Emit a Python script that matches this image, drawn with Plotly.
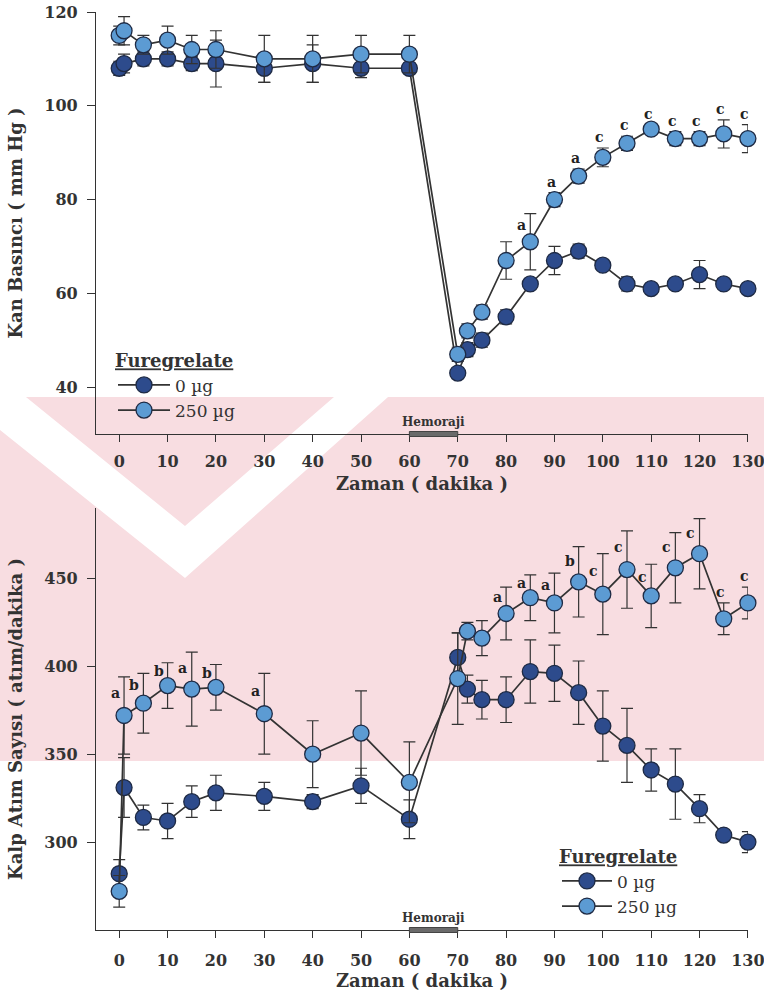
import plotly.graph_objects as go

# Ölçüm zamanları (dakika)
zaman = [0, 1, 5, 10, 15, 20, 30, 40, 50, 60,
         70, 72, 75, 80, 85, 90, 95, 100, 105, 110, 115, 120, 125, 130]

# Kan basıncı (mm Hg), ortalama ± SEM
kb_0 = [108, 109, 110, 110, 109, 109, 108, 109, 108, 108,
        43, 48, 50, 55, 62, 67, 69, 66, 62, 61, 62, 64, 62, 61]
kb_0_sem = [1.5, 2, 1.5, 1.5, 1.5, 5, 3, 4, 2, 1,
            1, 1.5, 1.5, 1.5, 1, 3, 1.5, 1, 1.5, 1, 1, 3, 1, 1]
kb_250 = [115, 116, 113, 114, 112, 112, 110, 110, 111, 111,
          47, 52, 56, 67, 71, 80, 85, 89, 92, 95, 93, 93, 94, 93]
kb_250_sem = [2, 3, 2, 3, 3, 4, 5, 5, 4, 4,
              1.5, 1.5, 1.5, 4, 6, 1.5, 1.5, 2, 1.5, 1, 1.5, 1.5, 3, 3]
kb_harf = ["", "", "", "", "", "", "", "", "", "",
           "", "", "", "", "a", "a", "a", "c", "c", "c", "c", "c", "c", "c"]

# Kalp atım sayısı (atım/dakika), ortalama ± SEM
ka_0 = [282, 331, 314, 312, 323, 328, 326, 323, 332, 313,
        405, 387, 381, 381, 397, 396, 385, 366, 355, 341, 333, 319, 304, 300]
ka_0_sem = [8, 17, 7, 10, 9, 10, 8, 4, 10, 11,
            14, 8, 11, 13, 18, 16, 18, 20, 21, 12, 20, 8, 2, 6]
ka_250 = [272, 372, 379, 389, 387, 388, 373, 350, 362, 334,
          393, 420, 416, 430, 439, 436, 448, 441, 455, 440, 456, 464, 427, 436]
ka_250_sem = [9, 22, 17, 13, 21, 13, 23, 19, 24, 23,
              26, 5, 10, 15, 13, 17, 20, 23, 22, 18, 20, 20, 9, 9]
ka_harf = ["", "a", "b", "b", "a", "b", "a", "", "", "",
           "", "", "", "a", "a", "a", "b", "c", "c", "c", "c", "c", "c", "c"]

doz_adlari = ["0 \u00b5g", "250 \u00b5g"]
x_ticks = list(range(0, 131, 10))

# Görünüm
W, H = 764, 992
M_L, M_R, M_T, M_B = 96, 16, 12, 62
PLOT_W = W - M_L - M_R
PLOT_H = H - M_T - M_B
X_RANGE = [-4.8, 130.02]
KB_RANGE = [30, 120]
KA_RANGE = [250, 490]
UST_DOMAIN = [(930 - 434) / PLOT_H, 1.0]
ALT_DOMAIN = [0.0, (930 - 508) / PLOT_H]

FONT = "DejaVu Serif"
KOYU = "#2D4B8C"
ACIK = "#5C9BD3"
CIZGI = "#333333"
PEMBE = "#F8DDE1"


def paper_x(px):
    return (px - M_L) / PLOT_W


def paper_y(py):
    return (H - M_B - py) / PLOT_H


def yol(noktalar):
    return "M " + " L ".join("%.4f,%.4f" % (paper_x(a), paper_y(b))
                             for a, b in noktalar) + " Z"


fig = go.Figure()


def seri(x, y, sem, ad, renk, xa, ya, legend):
    fig.add_trace(go.Scatter(
        x=x, y=y, name=ad, mode="lines+markers",
        xaxis=xa, yaxis=ya, legend=legend,
        cliponaxis=False,
        line=dict(color=CIZGI, width=1.7),
        marker=dict(size=16, color=renk, line=dict(color="#1E2A44", width=1.3)),
        error_y=dict(type="data", array=sem, visible=True,
                     color=CIZGI, thickness=1.2, width=6),
    ))


seri(zaman, kb_0, kb_0_sem, doz_adlari[0], KOYU, "x", "y", "legend")
seri(zaman, kb_250, kb_250_sem, doz_adlari[1], ACIK, "x", "y", "legend")
seri(zaman, ka_0, ka_0_sem, doz_adlari[0], KOYU, "x2", "y2", "legend2")
seri(zaman, ka_250, ka_250_sem, doz_adlari[1], ACIK, "x2", "y2", "legend2")

annotations = []


def harfler(x, y, sem, harf, xref, yref, ppu):
    for xi, yi, si, h in zip(x, y, sem, harf):
        if not h:
            continue
        err_px = si * ppu
        if err_px < 20:
            dy, dx = err_px + 11, -3
        else:
            dy, dx = err_px / 2 + 3, -9
        annotations.append(dict(
            x=xi, y=yi, xref=xref, yref=yref, text="<b>%s</b>" % h,
            showarrow=False, xshift=dx, yshift=dy,
            font=dict(family=FONT, size=14, color="#222222"),
        ))


ust_ppu = (UST_DOMAIN[1] - UST_DOMAIN[0]) * PLOT_H / (KB_RANGE[1] - KB_RANGE[0])
alt_ppu = (ALT_DOMAIN[1] - ALT_DOMAIN[0]) * PLOT_H / (KA_RANGE[1] - KA_RANGE[0])
harfler(zaman, kb_250, kb_250_sem, kb_harf, "x", "y", ust_ppu)
harfler(zaman, ka_250, ka_250_sem, ka_harf, "x2", "y2", alt_ppu)

shapes = []

# Arka plandaki soluk pembe filigran bandı ve beyaz şeridi
shapes.append(dict(type="path", xref="paper", yref="paper", layer="below",
                   path=yol([(0, 397), (764, 397), (764, 761), (0, 761)]),
                   fillcolor=PEMBE, line=dict(width=0)))
shapes.append(dict(type="path", xref="paper", yref="paper", layer="below",
                   path=yol([(0, 397), (26, 397), (185, 526), (334, 397),
                             (388, 397), (185, 578), (0, 430)]),
                   fillcolor="white", line=dict(width=0)))

# Hemoraji dönemi (60-70. dakikalar)
for xref, dom in (("x", UST_DOMAIN), ("x2", ALT_DOMAIN)):
    shapes.append(dict(
        type="rect", xref=xref, yref="paper", x0=60, x1=70,
        ysizemode="pixel", yanchor=dom[0], y0=-2.5, y1=2.5,
        fillcolor="#6a6a6a", line=dict(color="#444444", width=1),
    ))
    annotations.append(dict(
        x=65, y=dom[0], xref=xref, yref="paper", text="<b>Hemoraji</b>",
        showarrow=False, yanchor="bottom", yshift=3,
        font=dict(family=FONT, size=12, color="#333333"),
    ))

tick_font = dict(family=FONT, size=16, color="#333333", weight="bold")
title_font = dict(family=FONT, size=18, color="#333333", weight="bold")


def x_ekseni(standoff, baslik_standoff):
    return dict(
        range=X_RANGE, domain=[0, 1], tickvals=x_ticks, automargin=False,
        showline=True, linecolor="#333333", linewidth=1.2,
        ticks="outside", ticklen=7, tickcolor="#333333", tickwidth=1.2,
        ticklabelstandoff=standoff, ticklabeloverflow="allow",
        showgrid=False, zeroline=False, tickfont=tick_font,
        title=dict(text="Zaman ( dakika )", font=title_font,
                   standoff=baslik_standoff),
    )


def y_ekseni(rng, dom, baslik, tvals):
    return dict(
        range=rng, domain=dom, tickvals=tvals, automargin=False,
        showline=True, linecolor="#333333", linewidth=1.2,
        ticks="outside", ticklen=8, tickcolor="#333333", tickwidth=1.2,
        ticklabelstandoff=6,
        showgrid=False, zeroline=False, tickfont=tick_font,
        title=dict(text=baslik, font=title_font, standoff=16),
    )


legend_ortak = dict(
    bgcolor="rgba(0,0,0,0)", borderwidth=0,
    font=dict(family=FONT, size=17, color="#333333"),
    tracegroupgap=0, xanchor="left", yanchor="top",
)
legend_baslik = dict(text="<b><u>Furegrelate</u></b>",
                     font=dict(family=FONT, size=18, color="#333333"))

fig.update_layout(
    width=W, height=H,
    margin=dict(l=M_L, r=M_R, t=M_T, b=M_B, autoexpand=False),
    paper_bgcolor="white", plot_bgcolor="rgba(0,0,0,0)",
    xaxis=dict(**x_ekseni(6, 7), anchor="y"),
    yaxis=dict(**y_ekseni(KB_RANGE, UST_DOMAIN, "Kan Basıncı ( mm Hg )",
                          [40, 60, 80, 100, 120]), anchor="x"),
    xaxis2=dict(**x_ekseni(9, 1), anchor="y2"),
    yaxis2=dict(**y_ekseni(KA_RANGE, ALT_DOMAIN,
                           "Kalp Atım Sayısı ( atım/dakika )",
                           [300, 350, 400, 450]), anchor="x2"),
    legend=dict(**legend_ortak, x=paper_x(113), y=paper_y(344), itemwidth=52,
                title=legend_baslik),
    legend2=dict(**legend_ortak, x=paper_x(557), y=paper_y(840), itemwidth=50,
                 title=legend_baslik),
    shapes=shapes,
    annotations=annotations,
    showlegend=True,
)

fig.write_html("out.html")
